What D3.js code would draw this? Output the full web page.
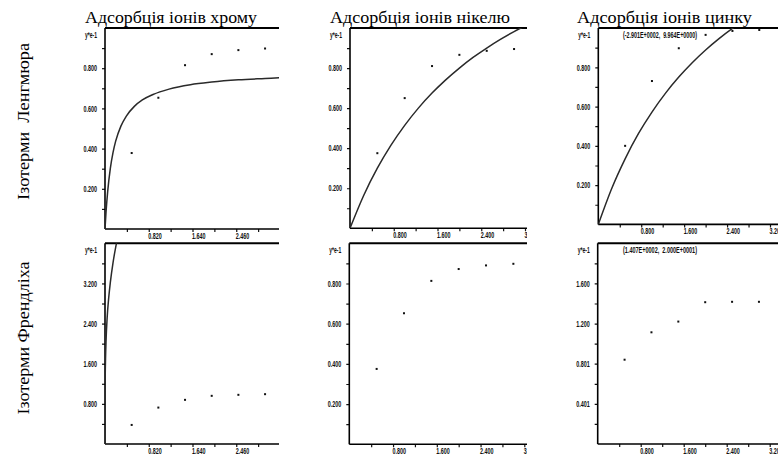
<!DOCTYPE html>
<html><head><meta charset="utf-8">
<script src="https://cdn.jsdelivr.net/npm/d3@7"></script>
<style>
html,body{margin:0;padding:0;background:#fff;}
svg{display:block;}
.tk text{font-family:"Liberation Sans Narrow","Arial Narrow","Liberation Sans",sans-serif;font-size:8.5px;font-weight:bold;fill:#111;}
.tk line{stroke:#111;stroke-width:1.2;}
</style></head><body>
<svg id="c" width="778" height="454"></svg>
<script>
// ---------- data ----------
const colTitles = ["Адсорбція іонів хрому", "Адсорбція іонів нікелю", "Адсорбція іонів цинку"];
const rowTitles = ["Ізотерми  Ленгмюра", "Ізотерми Френдліха"];
const yUnitLabel = "y*e-1";
const annotations = ["(-2.901E+0002,  9.964E+0000)", "(1.407E+0002,  2.000E+0001)"];

const concX = [0.5, 1.0, 1.5, 2.0, 2.5, 3.0];
const crLangY = [0.378, 0.653, 0.815, 0.870, 0.890, 0.898];
const niLangY = [0.375, 0.650, 0.810, 0.866, 0.886, 0.895];
const znLangY = [0.400, 0.730, 0.897, 0.965, 0.985, 0.990];
const crFreuY = [0.380, 0.726, 0.880, 0.960, 0.980, 0.993];
const niFreuY = [0.375, 0.652, 0.813, 0.872, 0.890, 0.898];
const znFreuY = [0.840, 1.113, 1.220, 1.413, 1.417, 1.417];

// fitted curves
const crLangCurveX = [0, 0.02, 0.05, 0.1, 0.15, 0.2, 0.3, 0.4, 0.55, 0.7, 0.9, 1.2, 1.6, 2.0, 2.5, 3.0, 3.3];
const crLangCurveY = [0, 0.087, 0.186, 0.302, 0.380, 0.437, 0.513, 0.562, 0.610, 0.642, 0.669, 0.696, 0.718, 0.731, 0.742, 0.749, 0.753];
const niLangCurveX = [0, 0.25, 0.5, 0.75, 1.0, 1.25, 1.5, 1.75, 2.0, 2.25, 2.5, 2.75, 3.0, 3.25];
const niLangCurveY = [0, 0.164, 0.300, 0.415, 0.514, 0.600, 0.675, 0.741, 0.800, 0.853, 0.900, 0.943, 0.982, 1.017];
const znLangCurveX = [0, 0.25, 0.5, 0.75, 1.0, 1.25, 1.5, 1.75, 2.0, 2.25, 2.5, 2.75];
const znLangCurveY = [0, 0.183, 0.334, 0.463, 0.572, 0.667, 0.750, 0.823, 0.888, 0.946, 0.998, 1.045];
const crFreuCurveX = [0, 0.001, 0.005, 0.01, 0.02, 0.04, 0.07, 0.1, 0.15, 0.2, 0.25];
const crFreuCurveY = [0, 0.90, 1.41, 1.70, 2.07, 2.51, 2.92, 3.22, 3.61, 3.92, 4.17];

// ticks
const crXTicks = [0.41, 0.82, 1.23, 1.64, 2.05, 2.46, 2.87, 3.28];
const crXLabels = ["", "0.820", "", "1.640", "", "2.460", "", "3.280"];
const xTicks32 = [0.4, 0.8, 1.2, 1.6, 2.0, 2.4, 2.8, 3.2];
const xLabels32 = ["", "0.800", "", "1.600", "", "2.400", "", "3.200"];
const yTicks1 = [0.1, 0.2, 0.3, 0.4, 0.5, 0.6, 0.7, 0.8, 0.9];
const yLabels1 = ["", "0.200", "", "0.400", "", "0.600", "", "0.800", ""];
const yTicks4 = [0.4, 0.8, 1.2, 1.6, 2.0, 2.4, 2.8, 3.2, 3.6];
const yLabels4 = ["", "0.800", "", "1.600", "", "2.400", "", "3.200", ""];
const yTicks2 = [0.2, 0.4, 0.6, 0.8, 1.0, 1.2, 1.4, 1.6, 1.8];
const yLabels2 = ["", "0.401", "", "0.801", "", "1.200", "", "1.600", ""];

// ---------- layout ----------
const panels = [
  {id: 0, xDom: [0, 3.28], xR: [105, 280], right: 279, top: 28, bottom: 229, yDom: [0, 1],
   xt: crXTicks, xl: crXLabels, yt: yTicks1, yl: yLabels1, px: concX, py: crLangY, cx: crLangCurveX, cy: crLangCurveY},
  {id: 1, xDom: [0, 3.2], xR: [350, 525], right: 527, top: 28, bottom: 228.3, yDom: [0, 1],
   xt: xTicks32, xl: xLabels32, yt: yTicks1, yl: yLabels1, px: concX, py: niLangY, cx: niLangCurveX, cy: niLangCurveY},
  {id: 2, xDom: [0, 3.2], xR: [598.3, 770], right: 778, top: 28, bottom: 224.4, yDom: [0, 1],
   xt: xTicks32, xl: xLabels32, yt: yTicks1, yl: yLabels1, px: concX, py: znLangY, cx: znLangCurveX, cy: znLangCurveY, ann: 0},
  {id: 3, xDom: [0, 3.28], xR: [105, 280], right: 279, top: 243.3, bottom: 444, yDom: [0, 4],
   xt: crXTicks, xl: crXLabels, yt: yTicks4, yl: yLabels4, px: concX, py: crFreuY, cx: crFreuCurveX, cy: crFreuCurveY},
  {id: 4, xDom: [0, 3.2], xR: [349.3, 524.3], right: 527, top: 243.3, bottom: 444.3, yDom: [0, 1],
   xt: xTicks32, xl: xLabels32, yt: yTicks1, yl: yLabels1, px: concX, py: niFreuY},
  {id: 5, xDom: [0, 3.2], xR: [597.7, 769.7], right: 778, top: 243.3, bottom: 444, yDom: [0, 2],
   xt: xTicks32, xl: xLabels32, yt: yTicks2, yl: yLabels2, px: concX, py: znFreuY, ann: 1}
];

const svg = d3.select("#c");
const defs = svg.append("defs");
svg.append("rect").attr("width", 778).attr("height", 454).attr("fill", "#fff");

// column titles
const titlePos = [{x: 85, w: 172}, {x: 330, w: 180}, {x: 577, w: 175}];
colTitles.forEach((t, i) => {
  svg.append("text").attr("x", titlePos[i].x).attr("y", 23)
    .attr("textLength", titlePos[i].w).attr("lengthAdjust", "spacingAndGlyphs")
    .style("font-family", '"Liberation Serif","Times New Roman",serif').style("font-size", "17.5px").style("fill", "#000")
    .text(t);
});
// row titles
const rowPos = [{cy: 121.5, len: 157}, {cy: 338, len: 153}];
rowTitles.forEach((t, i) => {
  svg.append("text").attr("transform", `translate(29,${rowPos[i].cy}) rotate(-90)`)
    .attr("text-anchor", "middle").attr("textLength", rowPos[i].len).attr("lengthAdjust", "spacingAndGlyphs")
    .style("font-family", '"Liberation Serif","Times New Roman",serif').style("font-size", "16px").style("fill", "#000")
    .style("white-space", "pre")
    .text(t);
});

function drawPanel(p) {
  const x = d3.scaleLinear().domain(p.xDom).range(p.xR);
  const y = d3.scaleLinear().domain(p.yDom).range([p.bottom, p.top]);
  const x0 = p.xR[0];
  defs.append("clipPath").attr("id", "cd" + p.id).append("rect")
    .attr("x", x0).attr("y", p.top).attr("width", p.right - x0).attr("height", p.bottom - p.top);
  defs.append("clipPath").attr("id", "ca" + p.id).append("rect")
    .attr("x", x0 - 60).attr("y", p.top - 5).attr("width", p.right - x0 + 60).attr("height", p.bottom - p.top + 25);

  const g = svg.append("g").attr("clip-path", `url(#ca${p.id})`);

  const xa = g.append("g").attr("class", "tk").attr("transform", `translate(0,${p.bottom})`)
    .call(d3.axisBottom(x).tickValues(p.xt).tickFormat((d, i) => p.xl[i]).tickSize(3).tickSizeOuter(0).tickPadding(1));
  xa.select(".domain").remove();
  xa.selectAll("text").attr("text-anchor", "start").attr("dx", -1)
    .each(function() { const s = this.textContent; if (s) d3.select(this).attr("textLength", s.length * 2.7).attr("lengthAdjust", "spacingAndGlyphs"); });

  const ya = g.append("g").attr("class", "tk").attr("transform", `translate(${x0},0)`)
    .call(d3.axisLeft(y).tickValues(p.yt).tickFormat((d, i) => p.yl[i]).tickSize(3).tickSizeOuter(0).tickPadding(5));
  ya.select(".domain").remove();
  ya.selectAll("text")
    .each(function() { const s = this.textContent; if (s) d3.select(this).attr("textLength", s.length * 2.7).attr("lengthAdjust", "spacingAndGlyphs"); });

  g.append("text").attr("class", "unit").attr("x", x0 - 8).attr("y", p.top + 10).attr("text-anchor", "end")
    .attr("textLength", 12).attr("lengthAdjust", "spacingAndGlyphs")
    .style("font-family", '"Liberation Sans Narrow","Arial Narrow",sans-serif').style("font-size", "8.5px").style("font-weight", "bold").style("fill", "#111")
    .text(yUnitLabel);

  // frame lines
  g.append("line").attr("x1", x0).attr("x2", p.right).attr("y1", p.top).attr("y2", p.top).attr("stroke", "#000").attr("stroke-width", 2);
  g.append("line").attr("x1", x0).attr("x2", x0).attr("y1", p.top).attr("y2", p.bottom).attr("stroke", "#000").attr("stroke-width", 1.6);
  g.append("line").attr("x1", x0).attr("x2", p.right).attr("y1", p.bottom).attr("y2", p.bottom).attr("stroke", "#000").attr("stroke-width", 1.6);

  const d = svg.append("g").attr("clip-path", `url(#cd${p.id})`);
  if (p.cx) {
    const pts = p.cx.map((v, i) => [v, p.cy[i]]);
    d.append("path").datum(pts)
      .attr("d", d3.line().x(q => x(q[0])).y(q => y(q[1])).curve(d3.curveMonotoneX))
      .attr("fill", "none").attr("stroke", "#2a2a2a").attr("stroke-width", 1.5);
  }
  d.selectAll("rect.pt").data(p.px.map((v, i) => [v, p.py[i]])).join("rect").attr("class", "pt")
    .attr("x", q => x(q[0]) - 1).attr("y", q => y(q[1]) - 1).attr("width", 2).attr("height", 2).attr("fill", "#111");

  if (p.ann !== undefined) {
    svg.append("text").attr("x", 623).attr("y", p.top + 10).attr("textLength", 74).attr("lengthAdjust", "spacingAndGlyphs")
      .style("font-family", '"Liberation Sans Narrow","Arial Narrow",sans-serif').style("font-size", "8.5px").style("font-weight", "bold").style("fill", "#111")
      .style("white-space", "pre")
      .text(annotations[p.ann]);
  }
}
panels.forEach(drawPanel);
</script>
</body></html>
